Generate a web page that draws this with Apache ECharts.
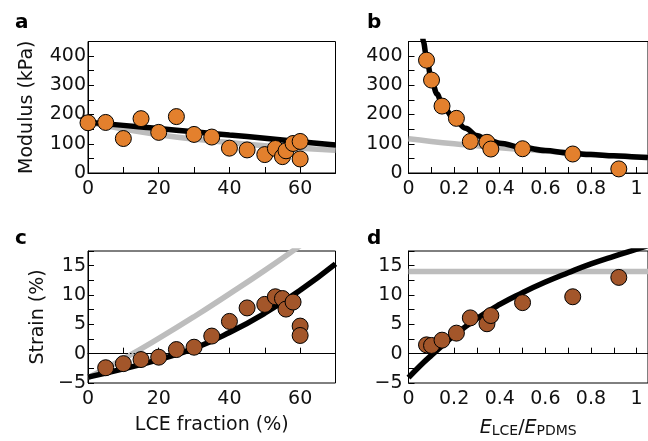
<!DOCTYPE html>
<html>
<head>
<meta charset="utf-8">
<script src="https://cdn.jsdelivr.net/npm/echarts@6/dist/echarts.min.js"></script>
<style>html,body{margin:0;padding:0;background:#fff}#c{width:648px;height:441px}</style>
</head>
<body>
<div id="c"></div>
<script>
// ---- data ----
const lceA = [0,5,10,15,20,25,30,35,40,45,50,53,55,56,58,60,60];
const modulusA = [172,173,118,186,139,193,132,123,85,79,63,84,56,76,101,108,48];
const fitXA = [0,10,20,30,40,50,60,70];
const fitBlackA = [174,163,152,141,130,119,107,96];
const fitGrayA = [174,150,131,116,104,93,85,78];

const ratioB = [0.079,0.101,0.147,0.21,0.271,0.344,0.361,0.5,0.72,0.922];
const modulusB = [386,318,229,187,108,105,82,83,65,14];
const fitBlackXB = [0.06,0.065,0.08,0.1,0.125,0.15,0.2,0.25,0.3,0.35,0.4,0.5,0.6,0.7,0.8,0.9,1.0,1.05];
const fitBlackB = [495,450,390,322,270,230,185,153,128,113,102,87,77,69,63,59,55,53];
const fitGrayXB = [0,0.1,0.2,0.3,0.4,0.5,0.6,0.7,0.8,0.9,1.0,1.05];
const fitGrayB = [117,108,100,93,86,81,75,69,64,59,55,53];

const lceC = [5,10,15,20,25,30,35,40,45,50,53,55,56,58,60,60];
const strainC = [-2.4,-1.7,-1.0,-0.6,0.7,1.1,3.0,5.5,7.8,8.4,9.7,9.4,7.6,8.8,4.7,3.1];
const fitXC = [0,10,20,30,40,50,60,70];
const fitBlackC = [-4.0,-2.6,-1.0,0.9,3.6,6.9,10.8,15.3];
const fitGrayXC = [0,10,20,30,40,50,60];
const fitGrayC = [-4.1,-0.9,2.6,6.3,10.2,14.2,18.4];

const ratioD = [0.079,0.101,0.147,0.21,0.271,0.344,0.361,0.5,0.72,0.922];
const strainD = [1.5,1.4,2.3,3.5,6.1,5.1,6.5,8.7,9.7,13.0];
const fitBlackXD = [0,0.05,0.1,0.2,0.3,0.4,0.5,0.6,0.7,0.8,0.9,1.0,1.05];
const fitBlackD = [-4.1,-2.1,-0.3,3.1,6.0,8.4,10.4,12.2,13.8,15.3,16.6,17.8,18.4];
const fitGrayXD = [0,1.05];
const fitGrayD = [14,14];

const panelLetters = ['a','b','c','d'];

// ---- styles ----
const FONT = 'DejaVu Sans';
const FS = 19;
const ORANGE = '#E3802D';
const BROWN = '#A3562A';
const GRAY = '#BDBDBD';
const pair = (xs, ys) => xs.map((x, i) => [x, ys[i]]);
const minus = s => String(s).replace('-', '\u2212');

const grids = [
  {left: 88, top: 41.5, width: 247.5, height: 131.5},
  {left: 408.5, top: 41.5, width: 249, height: 131.5},
  {left: 88, top: 251, width: 247.5, height: 132},
  {left: 408.5, top: 251, width: 249, height: 132}
].map(g => Object.assign({show: true, borderColor: '#000', borderWidth: 1, containLabel: false}, g));

const tickStyle = {show: true, inside: true, length: 6, lineStyle: {color: '#000', width: 1}};
const lineAx = {show: true, lineStyle: {color: '#000', width: 1}};
const lblBase = {color: '#111', fontFamily: FONT, fontSize: FS};

function xLce(idx, withName) {
  return {
    type: 'value', gridIndex: idx, min: 0, max: 70, interval: 10,
    axisLine: lineAx, axisTick: tickStyle, splitLine: {show: false},
    axisLabel: Object.assign({margin: 7, formatter: v => (v % 20 === 0 && v <= 60) ? String(v) : ''}, lblBase),
    name: withName ? 'LCE fraction (%)' : '', nameLocation: 'middle', nameGap: 33,
    nameTextStyle: {color: '#111', fontFamily: FONT, fontSize: FS}
  };
}
function xRatio(idx, withName) {
  return {
    type: 'value', gridIndex: idx, min: 0, max: 1.05, interval: 0.1,
    axisLine: lineAx, axisTick: tickStyle, splitLine: {show: false},
    axisLabel: Object.assign({margin: 7, showMaxLabel: false, formatter: v => {
      const k = Math.round(v * 10);
      if (k % 2 !== 0 || k > 10) return '';
      if (k === 0) return '0';
      if (k === 10) return '1';
      return (k / 10).toFixed(1);
    }}, lblBase),
    name: withName ? '{i|E}{s|LCE}{n|/}{i|E}{s|PDMS}' : '', nameLocation: 'middle', nameGap: 33,
    nameTextStyle: {color: '#111', fontFamily: FONT, fontSize: FS, rich: {
      i: {fontFamily: FONT, fontSize: FS, fontStyle: 'italic', color: '#111', lineHeight: 22, verticalAlign: 'bottom'},
      n: {fontFamily: FONT, fontSize: FS, color: '#111', lineHeight: 22, verticalAlign: 'bottom'},
      s: {fontFamily: FONT, fontSize: 14, color: '#111', lineHeight: 14, verticalAlign: 'bottom'}
    }}
  };
}
function yMod(idx, name, margin) {
  return {
    type: 'value', gridIndex: idx, min: 0, max: 450, interval: 50,
    axisLine: lineAx, axisTick: tickStyle, splitLine: {show: false},
    axisLabel: Object.assign({margin: margin, formatter: v => (v % 100 === 0 && v <= 400) ? String(v) : ''}, lblBase),
    name: name, nameLocation: 'middle', nameGap: 51,
    nameTextStyle: {color: '#111', fontFamily: FONT, fontSize: FS}
  };
}
function yStrain(idx, name, margin) {
  return {
    type: 'value', gridIndex: idx, min: -5, max: 17.5, interval: 2.5,
    axisLine: lineAx, axisTick: tickStyle, splitLine: {show: false},
    axisLabel: Object.assign({margin: margin, formatter: v => (Math.abs(v % 5) < 1e-9 && v <= 15) ? minus(v) : ''}, lblBase),
    name: name, nameLocation: 'middle', nameGap: 40,
    nameTextStyle: {color: '#111', fontFamily: FONT, fontSize: FS}
  };
}

function fitLine(ax, xs, ys, color, z, extra) {
  return Object.assign({
    type: 'line', xAxisIndex: ax, yAxisIndex: ax, data: pair(xs, ys),
    showSymbol: false, symbol: 'none', smooth: 0.5, clip: true,
    lineStyle: {color: color, width: 5.5, cap: 'butt'}, z: z, silent: true
  }, extra || {});
}
function pts(ax, xs, ys, color) {
  return {
    type: 'scatter', xAxisIndex: ax, yAxisIndex: ax, data: pair(xs, ys),
    symbol: 'circle', symbolSize: 16, z: 5,
    itemStyle: {color: color, borderColor: '#000', borderWidth: 1, opacity: 1}
  };
}
const zeroLine = {
  silent: true, symbol: 'none', label: {show: false},
  lineStyle: {color: '#000', width: 1, type: [1.5, 2]},
  data: [{yAxis: 0}]
};

const option = {
  animation: false,
  backgroundColor: '#fff',
  title: panelLetters.map((t, i) => ({
    text: t, padding: 0,
    left: i % 2 === 0 ? 15 : 367, top: i < 2 ? 13 : 229,
    textStyle: {fontFamily: FONT, fontWeight: 'bold', fontSize: 20, color: '#000'}
  })),
  grid: grids,
  xAxis: [xLce(0, false), xRatio(1, false), xLce(2, true), xRatio(3, true)],
  yAxis: [yMod(0, 'Modulus (kPa)', 2), yMod(1, '', 6), yStrain(2, 'Strain (%)', 2), yStrain(3, '', 6)],
  series: [
    fitLine(0, fitXA, fitGrayA, GRAY, 2),
    fitLine(0, fitXA, fitBlackA, '#000', 3),
    pts(0, lceA, modulusA, ORANGE),

    fitLine(1, fitGrayXB, fitGrayB, GRAY, 2),
    fitLine(1, fitBlackXB, fitBlackB, '#000', 3, {smooth: 0.35, smoothMonotone: 'x'}),
    pts(1, ratioB, modulusB, ORANGE),

    fitLine(2, fitGrayXC, fitGrayC, GRAY, 2, {markLine: zeroLine}),
    fitLine(2, fitXC, fitBlackC, '#000', 3),
    pts(2, lceC, strainC, BROWN),

    fitLine(3, fitGrayXD, fitGrayD, GRAY, 2, {smooth: false, markLine: zeroLine}),
    fitLine(3, fitBlackXD, fitBlackD, '#000', 3),
    pts(3, ratioD, strainD, BROWN)
  ]
};

const chart = echarts.init(document.getElementById('c'), null, {renderer: 'canvas'});
chart.setOption(option);
</script>
</body>
</html>
